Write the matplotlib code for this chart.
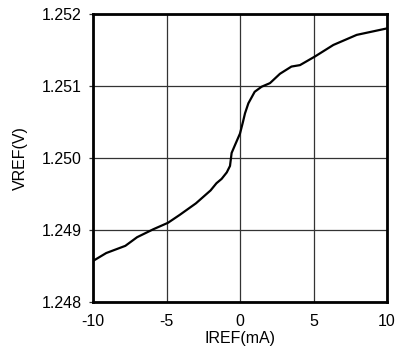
import numpy as np
import matplotlib.pyplot as plt

# IREF (mA) vs VREF (V)
iref = [-10, -9.1, -7.8, -7.0, -5.9, -4.9, -4.1, -3.0, -2.0, -1.6, -1.25,
        -0.9, -0.68, -0.57, -0.34, 0.0, 0.2, 0.34, 0.57, 1.0, 1.47, 2.04,
        2.72, 3.5, 4.08, 5.1, 6.35, 7.94, 10]
vref = [1.24857, 1.24868, 1.24878, 1.24890, 1.24901, 1.24910, 1.24921,
        1.24937, 1.24955, 1.24965, 1.24971, 1.24980, 1.24989, 1.25007,
        1.25018, 1.25034, 1.25050, 1.25062, 1.25076, 1.25092, 1.25099,
        1.25104, 1.25117, 1.25127, 1.25129, 1.25141, 1.25157, 1.25171,
        1.25180]
xticks = [-10, -5, 0, 5, 10]
yticks = [1.248, 1.249, 1.250, 1.251, 1.252]

plt.rcParams['font.family'] = ['Liberation Sans', 'DejaVu Sans']
plt.rcParams['axes.unicode_minus'] = False

fig = plt.figure(figsize=(3.95, 3.58), dpi=100)
ax = fig.add_axes([93/395, 1-302/358, 294/395, 288/358])
ax.plot(iref, vref, color='black', lw=1.6)

ax.set_xlim(-10, 10)
ax.set_ylim(1.248, 1.252)
ax.set_xticks(xticks)
ax.set_yticks(yticks)
ax.set_yticklabels(['%.3f' % v for v in yticks])
ax.grid(True, color='#333333', lw=0.9)
ax.tick_params(labelsize=11.5, width=0.9, color='#333333')
ax.tick_params(axis='x', pad=9, length=0)
ax.tick_params(axis='y', pad=5, length=3)
for s in ax.spines.values():
    s.set_linewidth(2)
    s.set_color('black')

ax.set_xlabel('IREF(mA)', fontsize=11.5, labelpad=1)
ax.set_ylabel('VREF(V)', fontsize=11.5, labelpad=10)

fig.savefig('out.png', dpi=100)
